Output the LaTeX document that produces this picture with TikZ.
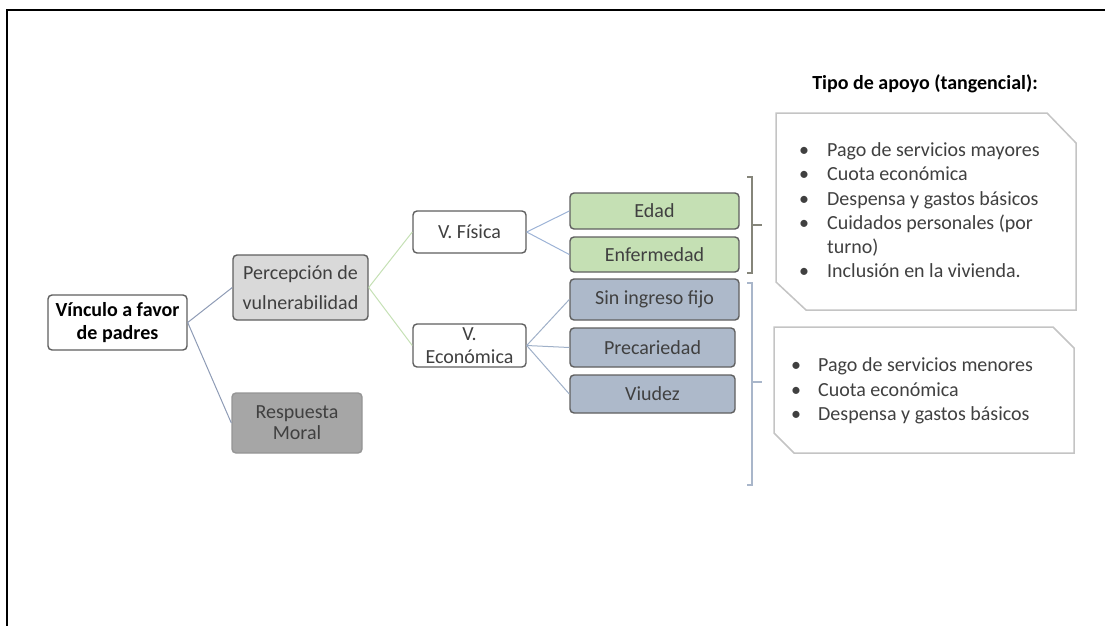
\documentclass[tikz,border=0pt]{standalone}
\usepackage{fontspec}
\setmainfont{Carlito}
\definecolor{txt}{HTML}{404040}
\definecolor{edge}{HTML}{5F5F5F}
\definecolor{greenfill}{HTML}{C5E0B4}
\definecolor{bluefill}{HTML}{ADB9CA}
\definecolor{lightgrayfill}{HTML}{D9D9D9}
\definecolor{midgrayfill}{HTML}{A6A6A6}
\definecolor{linkblue}{HTML}{8E9BB5}
\definecolor{linkgreen}{HTML}{C5E0B4}
\definecolor{linksky}{HTML}{9DB3D6}
\definecolor{linkslate}{HTML}{9FB0C8}
\definecolor{calloutedge}{HTML}{C4C4C4}
\definecolor{braceolive}{HTML}{85857A}
\definecolor{braceblue}{HTML}{A9B6CA}
\begin{document}
\begin{tikzpicture}[x=1pt,y=-1pt,
  every node/.style={font=\fontsize{20}{24}\selectfont, text=txt},
  box/.style={draw=edge, line width=1.4pt, rounded corners=4pt, inner sep=0pt, align=center},
  link/.style={line width=1pt},
  callout/.style={draw=calloutedge, line width=1.5pt, fill=white, line join=miter},
  item/.style={anchor=base west, inner sep=0pt},
  bracket/.style={line width=1.3pt}]
\useasboundingbox (0,0) rectangle (1105,626);
% outer frame
\draw[line width=2pt, black] (7,626) -- (7,10) -- (1105,10);

% tree nodes
\node[box, fill=white, minimum width=139pt, minimum height=55pt, text=black, font=\fontsize{20}{23}\selectfont\bfseries]
  (vinculo) at (117.5,322.5) {Vínculo a favor\\de padres};
\node[box, fill=lightgrayfill, minimum width=135pt, minimum height=65pt, font=\fontsize{20}{30}\selectfont]
  (percepcion) at (300.5,287.5) {Percepción de\\vulnerabilidad};
\node[box, fill=midgrayfill, draw=midgrayfill!90!black, minimum width=130pt, minimum height=60pt, font=\fontsize{20}{21}\selectfont]
  (respuesta) at (297,423) {Respuesta\\Moral};
\node[box, fill=white, minimum width=113pt, minimum height=42pt] (fisica) at (469.5,232) {V. Física};
\node[box, fill=white, minimum width=113pt, minimum height=43pt, font=\fontsize{20}{23}\selectfont]
  (economica) at (469.5,345.5) {V.\\Económica};
\node[box, fill=greenfill, minimum width=169pt, minimum height=36pt] (edad) at (654.5,211) {Edad};
\node[box, fill=greenfill, minimum width=169pt, minimum height=35pt] (enfermedad) at (654.5,254.5) {Enfermedad};
\node[box, fill=bluefill, minimum width=169pt, minimum height=41pt] (sining) at (654.5,299.5) {Sin ingreso fijo};
\node[box, fill=bluefill, minimum width=165pt, minimum height=39pt] (precariedad) at (652.5,347.5) {Precariedad};
\node[box, fill=bluefill, minimum width=165pt, minimum height=38pt] (viudez) at (652.5,394) {Viudez};

% connectors
\draw[link, linkblue] (vinculo.east) -- (percepcion.west);
\draw[link, linkblue] (vinculo.east) -- (respuesta.west);
\draw[link, linkgreen] (percepcion.east) -- (fisica.west);
\draw[link, linkgreen] (percepcion.east) -- (economica.west);
\draw[link, linksky] (fisica.east) -- (edad.west);
\draw[link, linksky] (fisica.east) -- (enfermedad.west);
\draw[link, linkslate] (economica.east) -- (sining.west);
\draw[link, linkslate] (economica.east) -- (precariedad.west);
\draw[link, linkslate] (economica.east) -- (viudez.west);

% brackets grouping the categories
\draw[bracket, braceolive] (747,177) -- (752,177) -- (752,273) -- (747,273);
\draw[bracket, braceolive] (752,225) -- (762,225);
\draw[bracket, braceblue] (747,283) -- (752,283) -- (752,485) -- (747,485);
\draw[bracket, braceblue] (752,382) -- (762,382);

% support type panels
\node[anchor=base, inner sep=0pt, text=black, font=\fontsize{20}{24}\selectfont\bfseries]
  (titulo) at (925,89) {Tipo de apoyo (tangencial):};
\draw[callout] (776,113) -- (1047,113) -- (1076,143) -- (1076,310) -- (806,310) -- (776,282) -- cycle;
\draw[callout] (774,327) -- (1053,327) -- (1074,348) -- (1074,453) -- (794,453) -- (774,433) -- cycle;

\node[item] (a1) at (799,156) {\makebox[28pt][l]{\textbullet}Pago de servicios mayores};
\node[item] (a2) at (799,180) {\makebox[28pt][l]{\textbullet}Cuota económica};
\node[item] (a3) at (799,205) {\makebox[28pt][l]{\textbullet}Despensa y gastos básicos};
\node[item] (a4) at (799,229) {\makebox[28pt][l]{\textbullet}Cuidados personales (por};
\node[item] (a5) at (827,253) {turno)};
\node[item] (a6) at (799,277) {\makebox[28pt][l]{\textbullet}Inclusión en la vivienda.};

\node[item] (b1) at (791,371) {\makebox[27pt][l]{\textbullet}Pago de servicios menores};
\node[item] (b2) at (791,396) {\makebox[27pt][l]{\textbullet}Cuota económica};
\node[item] (b3) at (791,420) {\makebox[27pt][l]{\textbullet}Despensa y gastos básicos};
\end{tikzpicture}
\end{document}
